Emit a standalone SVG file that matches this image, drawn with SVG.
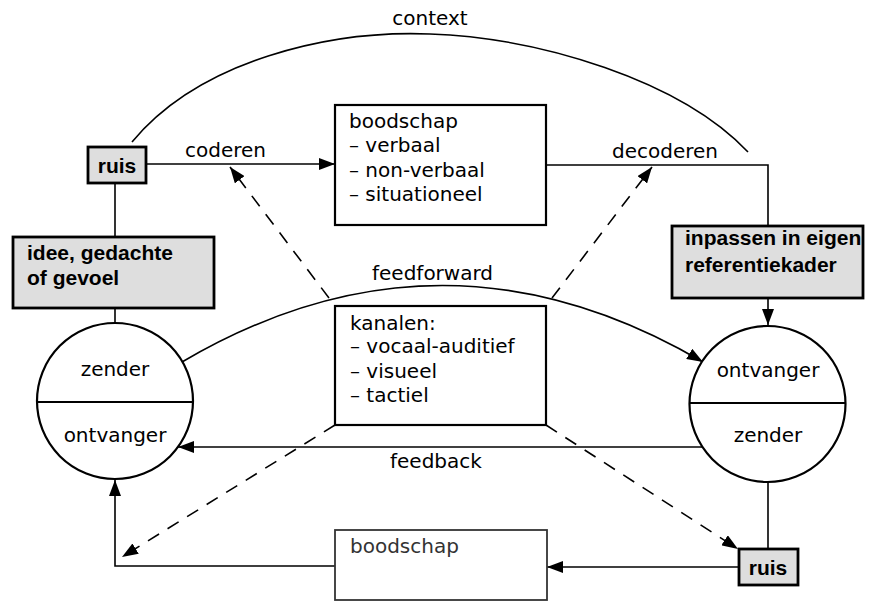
<svg xmlns="http://www.w3.org/2000/svg" width="869" height="602" viewBox="0 0 869 602">
<defs>
<style>
.t{font-family:"DejaVu Sans","Liberation Sans",sans-serif;font-size:20px;fill:#000}
.b{font-family:"Liberation Sans",Arial,sans-serif;font-size:21px;font-weight:bold;fill:#000}
.m{text-anchor:middle}
.ln{fill:none;stroke:#000;stroke-width:1.6}
.da{fill:none;stroke:#000;stroke-width:1.6;stroke-dasharray:13 10}
.box{fill:#fff;stroke:#000;stroke-width:2.2}
.sh{fill:#dedede;stroke:#000;stroke-width:2.8}
.cir{fill:#fff;stroke:#000;stroke-width:2.2}
</style>
<marker id="ah" viewBox="0 0 16 12" refX="16" refY="6" markerWidth="16" markerHeight="12" markerUnits="userSpaceOnUse" orient="auto">
<path d="M0,0 L16,6 L0,12 Z" fill="#000"/>
</marker>
</defs>
<rect width="869" height="602" fill="#fff"/>

<g id="connectors">
<path class="ln" d="M132,142 C200,60 330,30 430,34 C540,38 680,80 748,152"/>
<path class="ln" d="M146,164 H335" marker-end="url(#ah)"/>
<path class="ln" d="M546,165 H768 V226"/>
<path class="ln" d="M115,183 V237"/>
<path class="ln" d="M115,308 V323"/>
<path class="ln" d="M768,298 V325" marker-end="url(#ah)"/>
<path class="ln" d="M182,362 Q442,209 703,362" marker-end="url(#ah)"/>
<path class="ln" d="M702,447 H178" marker-end="url(#ah)"/>
<path class="ln" d="M768,482 V549"/>
<path class="ln" d="M739,567 H547" marker-end="url(#ah)"/>
<path class="ln" d="M335,566 H115 V480" marker-end="url(#ah)"/>
<path class="da" d="M329,298 L230,167" marker-end="url(#ah)"/>
<path class="da" d="M552,298 L652,167" marker-end="url(#ah)"/>
<path class="da" d="M335,425 L122,557" marker-end="url(#ah)"/>
<path class="da" d="M546,425 L738,549" marker-end="url(#ah)"/>
</g>

<g id="context-label"><text class="t m" x="430" y="25">context</text></g>
<g id="coderen-label"><text class="t" x="185" y="157">coderen</text></g>
<g id="decoderen-label"><text class="t" x="612" y="158">decoderen</text></g>
<g id="feedforward-label"><text class="t" x="372" y="280">feedforward</text></g>
<g id="feedback-label"><text class="t" x="390" y="468">feedback</text></g>

<g id="ruis-top">
<rect class="sh" x="88" y="147" width="58" height="36"/>
<text class="b m" x="117" y="173">ruis</text>
</g>

<g id="boodschap-top">
<rect class="box" x="335" y="105" width="211" height="120"/>
<text class="t" x="349" y="128">boodschap</text>
<text class="t" x="349" y="152">– verbaal</text>
<text class="t" x="349" y="177">– non-verbaal</text>
<text class="t" x="349" y="201">– situationeel</text>
</g>

<g id="idee">
<rect class="sh" x="13" y="237" width="201" height="71"/>
<text class="b" x="27" y="260">idee, gedachte</text>
<text class="b" x="27" y="285">of gevoel</text>
</g>

<g id="inpassen">
<rect class="sh" x="672" y="226" width="191" height="72"/>
<text class="b" x="685" y="245">inpassen in eigen</text>
<text class="b" x="685" y="272">referentiekader</text>
</g>

<g id="kanalen">
<rect class="box" x="335" y="306" width="211" height="119"/>
<text class="t" x="350" y="330">kanalen:</text>
<text class="t" x="350" y="353">– vocaal-auditief</text>
<text class="t" x="350" y="378">– visueel</text>
<text class="t" x="350" y="402">– tactiel</text>
</g>

<g id="left-circle">
<circle class="cir" cx="115" cy="401" r="78"/>
<line class="ln" x1="37" y1="402" x2="193" y2="402" style="stroke-width:2.2"/>
<text class="t m" x="115" y="376">zender</text>
<text class="t m" x="115" y="442">ontvanger</text>
</g>

<g id="right-circle">
<circle class="cir" cx="767.5" cy="404" r="78"/>
<line class="ln" x1="689.5" y1="403" x2="845.5" y2="403" style="stroke-width:2.2"/>
<text class="t m" x="768" y="377">ontvanger</text>
<text class="t m" x="768" y="442">zender</text>
</g>

<g id="ruis-bottom">
<rect class="sh" x="739" y="549" width="59" height="36"/>
<text class="b m" x="768" y="575">ruis</text>
</g>

<g id="boodschap-bottom">
<rect x="335" y="530" width="212" height="70" fill="#fff" stroke="#333" stroke-width="1.8"/>
<text class="t" x="350" y="553" style="fill:#333">boodschap</text>
</g>
</svg>
